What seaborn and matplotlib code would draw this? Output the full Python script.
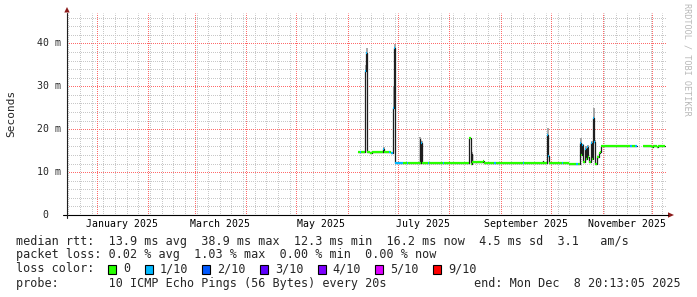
import numpy as np
import pandas as pd
import matplotlib
matplotlib.use("Agg")
import matplotlib.pyplot as plt
import matplotlib.dates as mdates
from matplotlib.lines import Line2D
from matplotlib.patches import Polygon, Rectangle
from matplotlib.transforms import blended_transform_factory
import seaborn as sns

# ---------------- data ----------------
nan = np.nan
rtt_time = [
    "2025-06-07 08:00", "2025-06-08 00:00", "2025-06-08 16:00", "2025-06-11 12:00",
    "2025-06-12 00:00", "2025-06-12 12:00", "2025-06-14 00:00", "2025-06-15 12:00",
    "2025-06-22 06:00", "2025-06-22 18:00", "2025-06-25 12:00", "2025-06-26 00:00",
    "2025-06-27 00:00", "2025-06-28 06:00", "2025-06-28 18:00", "2025-06-29 06:00",
    "2025-07-04 00:00", "2025-07-06 12:00", "2025-07-07 06:00", "2025-07-14 00:00",
    "2025-07-14 12:00", "2025-07-15 00:00", "2025-07-15 12:00", "2025-07-19 00:00",
    "2025-07-19 18:00", "2025-07-28 00:00", "2025-07-28 18:00", "2025-08-12 12:00",
    "2025-08-13 18:00", "2025-08-14 06:00", "2025-08-14 18:00", "2025-08-21 00:00",
    "2025-08-21 12:00", "2025-08-28 00:00", "2025-08-28 18:00", "2025-09-14 00:00",
    "2025-09-14 18:00", "2025-09-26 00:00", "2025-09-26 12:00", "2025-09-28 18:00",
    "2025-09-29 06:00", "2025-09-29 18:00", "2025-10-07 18:00", "2025-10-08 12:00",
    "2025-10-12 00:00", "2025-10-16 00:00", "2025-10-17 00:00", "2025-10-18 18:00",
    "2025-10-19 08:00", "2025-10-19 23:00", "2025-10-20 13:00", "2025-10-21 18:00",
    "2025-10-22 08:00", "2025-10-22 23:00", "2025-10-23 13:00", "2025-10-24 03:00",
    "2025-10-25 08:00", "2025-10-25 23:00", "2025-10-26 13:00", "2025-10-27 03:00",
    "2025-10-27 18:00", "2025-10-28 23:00", "2025-10-30 03:00", "2025-10-30 18:00",
    "2025-10-31 08:00", "2025-11-10 00:00", "2025-11-10 12:00", "2025-11-17 12:00",
    "2025-11-19 00:00", "2025-11-20 12:00", "2025-11-21 12:00", "2025-11-22 00:00",
    "2025-11-25 12:00", "2025-12-01 00:00", "2025-12-01 12:00", "2025-12-04 00:00",
    "2025-12-04 12:00", "2025-12-08 20:13",
]
rtt_median_ms = [
    14.6, 14.7, 14.7, 33.5, 37.7, 14.7, 14.5, 14.7,
    15.5, 14.6, 14.6, 14.6, 14.5, 25.0, 38.9, 12.2,
    12.2, 12.2, 12.2, 17.8, 12.2, 16.9, 12.2, 12.2,
    12.2, 12.2, 12.1, 18.0, 11.9, 14.3, 12.3, 12.6,
    12.2, 12.2, 12.2, 12.2, 12.2, 12.6, 12.2, 18.6,
    13.8, 12.2, 12.2, 12.2, 12.0, 12.0, 12.0, 16.7,
    14.0, 16.3, 12.3, 15.3, 13.0, 15.8, 13.5, 12.4,
    16.8, 13.0, 22.6, 17.0, 12.0, 13.5, 14.5, 14.6,
    16.1, 16.1, 16.1, 16.1, 16.0, 16.1, 16.1, nan,
    16.1, 15.9, 16.1, 15.9, 16.1, 16.1,
]
rtt_smoke_top_ms = [
    nan, nan, nan, 35.0, 38.9, nan, nan, nan,
    15.8, nan, nan, nan, nan, 30.0, 39.8, nan,
    nan, nan, nan, 18.3, nan, 17.2, nan, nan,
    nan, nan, nan, 18.2, nan, 14.6, nan, nan,
    nan, nan, nan, nan, nan, nan, nan, 20.2,
    14.4, nan, nan, nan, nan, nan, nan, 17.9,
    14.5, 16.6, nan, 16.2, nan, 16.3, nan, nan,
    17.2, nan, 24.9, 17.5, nan, nan, nan, nan,
    nan, nan, nan, nan, nan, nan, nan, nan,
    nan, nan, nan, nan, nan, nan,
]
rtt_loss = [
    0, 1, 0, 1, 1, 0, 0, 0,
    1, 0, 1, 0, 1, 1, 1, 1,
    0, 1, 0, 1, 0, 1, 0, 1,
    0, 1, 0, 0, 0, 0, 0, 0,
    0, 1, 0, 1, 0, 0, 0, 1,
    1, 0, 1, 0, 0, 1, 0, 1,
    0, 1, 0, 1, 0, 1, 0, 0,
    1, 0, 1, 1, 0, 0, 0, 0,
    0, 1, 0, 1, 0, 1, 0, 0,
    0, 0, 0, 0, 0, 0,
]
loss_labels = ["0", "1/10", "2/10", "3/10", "4/10", "5/10", "9/10"]
loss_colors = ["#26ff00", "#00b8ff", "#0059ff", "#5e00ff", "#7e00ff", "#dd00ff", "#ff0000"]

month_label_names = ["January 2025", "March 2025", "May 2025", "July 2025",
                     "September 2025", "November 2025"]
month_label_pos = ["2025-01-16", "2025-03-16", "2025-05-16", "2025-07-16",
                   "2025-09-16", "2025-11-16"]
y_ticks = [0, 10, 20, 30, 40]
y_tick_labels = ["0", "10 m", "20 m", "30 m", "40 m"]

legend_rtt = "median rtt:  13.9 ms avg  38.9 ms max  12.3 ms min  16.2 ms now  4.5 ms sd  3.1   am/s"
legend_loss = "packet loss: 0.02 % avg  1.03 % max  0.00 % min  0.00 % now"
legend_probe = "probe:       10 ICMP Echo Pings (56 Bytes) every 20s"
legend_end = "end: Mon Dec  8 20:13:05 2025"

# ---------------- figure ----------------
sns.set_style("white")
plt.rcParams["font.family"] = ["DejaVu Sans Mono", "DejaVu Sans"]

W, H = 697, 297
fig = plt.figure(figsize=(W / 100, H / 100), dpi=100)
fig.patch.set_facecolor("white")

def fx(x):
    return x / W

def fy(y):
    return 1 - y / H

L, R, T, B = 66.5, 665.5, 13.4, 215.0
ax = fig.add_axes([fx(L), fy(B), (R - L) / W, (B - T) / H])
ax.set_facecolor("white")
for s in ax.spines.values():
    s.set_visible(False)

t = pd.to_datetime(pd.Series(rtt_time))
med = np.array(rtt_median_ms, dtype=float)
top = np.array(rtt_smoke_top_ms, dtype=float)

# frame for the (dark) step line, split at data gaps
rows = []
seg = 0
prev = med[0]
for ti, v in zip(t, med):
    if np.isnan(v):
        rows.append((ti, prev, seg))
        seg += 1
    else:
        rows.append((ti, v, seg))
        prev = v
line_df = pd.DataFrame(rows, columns=["time", "rtt", "seg"])

t_end = pd.Timestamp("2025-12-08 20:13:05")
t_start = t_end - pd.Timedelta(days=360)

# grid (1px dotted lines, snapped to pixels)
minor_c = "#c8c8c8"
major_c = "#ff6a6a"
dash = (0.5, (1, 1))
gkw = dict(lw=0.72, ls=dash, antialiased=True, snap=True)
months = pd.date_range("2025-01-01", t_end, freq="MS")
weeks = pd.date_range(t_start.normalize(), t_end, freq="W-SUN")
for w in weeks:
    if w not in months:
        ax.axvline(w, color=minor_c, zorder=0, **gkw)
for m in months:
    ax.axvline(m, color=major_c, zorder=0.5, **gkw)
for yv in range(2, 47, 2):
    if yv % 10:
        ax.axhline(yv, color=minor_c, zorder=0, **gkw)
    else:
        ax.axhline(yv, color=major_c, zorder=0.5, **gkw)

# smoke
tn = mdates.date2num(t)
for i in range(len(t) - 1):
    if not np.isnan(top[i]) and not np.isnan(med[i]):
        mid = (tn[i] + tn[i + 1]) / 2
        ax.vlines(mid, med[i], top[i], color="#a0a0a0", lw=1.3, zorder=2)

# median step line (dark joins)
sns.lineplot(data=line_df, x="time", y="rtt", units="seg", estimator=None,
             drawstyle="steps-post", color="#1e1e1e", lw=0.9, ax=ax,
             legend=False, zorder=3)

# median coloured by loss
for i in range(len(t) - 1):
    if np.isnan(med[i]):
        continue
    ax.hlines(med[i], tn[i], tn[i + 1], color=loss_colors[rtt_loss[i]],
              lw=1.6, zorder=4, capstyle="butt")

ax.set_xlim(t_start, t_end)
ax.set_ylim(0, 47)
ax.set_xlabel("")
ax.set_ylabel("")
ax.set_xticks(pd.to_datetime(month_label_pos), month_label_names)
ax.tick_params(axis="x", length=0, pad=2.7, labelsize=7.1, colors="#000000")
ax.set_yticks([])

trans = blended_transform_factory(fig.transFigure, ax.transData)
for v, lab in zip(y_ticks, y_tick_labels):
    if lab == "0":
        ax.text(fx(45), v, lab, transform=trans, ha="center", va="center", fontsize=7.1)
    else:
        ax.text(fx(60.5), v, lab, transform=trans, ha="right", va="center", fontsize=7.1)

# axes with arrows
fig.add_artist(Line2D([fx(63), fx(668)], [fy(215), fy(215)], color="#000000", lw=0.8))
fig.add_artist(Line2D([fx(67), fx(67)], [fy(218), fy(12.5)], color="#202020", lw=0.8))
fig.add_artist(Polygon([[fx(668), fy(212.3)], [fx(668), fy(217.7)], [fx(674), fy(215)]],
                       closed=True, color="#8b1a1a", lw=0))
fig.add_artist(Polygon([[fx(64.3), fy(12.5)], [fx(69.7), fy(12.5)], [fx(67), fy(7)]],
                       closed=True, color="#8b1a1a", lw=0))

# y label and watermark
fig.text(fx(11), fy(113.5), "Seconds", rotation=90, ha="center", va="center", fontsize=8.0)
fig.text(fx(687), fy(59), "RRDTOOL / TOBI OETIKER", rotation=270, ha="center",
         va="center", fontsize=6.1, color="#b8b8b8")

# legend
fs = 8.43
fig.text(fx(16), fy(241.3), legend_rtt, ha="left", va="center", fontsize=fs)
fig.text(fx(16), fy(254.8), legend_loss, ha="left", va="center", fontsize=fs)
fig.text(fx(16), fy(269.0), "loss color:", ha="left", va="center", fontsize=fs)
fig.text(fx(16), fy(283.2), legend_probe, ha="left", va="center", fontsize=fs)
fig.text(fx(681), fy(283.2), legend_end, ha="right", va="center", fontsize=fs)

cw = 7.05
x0 = 108.0
for lab, col in zip(loss_labels, loss_colors):
    fig.add_artist(Rectangle((fx(x0), fy(274)), 8 / W, 9 / H, transform=fig.transFigure,
                             facecolor=col, edgecolor="#000000", lw=0.8))
    fig.text(fx(x0 + 15), fy(269.0), lab, ha="left", va="center", fontsize=fs)
    x0 += 15 + cw * len(lab) + 14.5

fig.savefig("out.png", dpi=100, facecolor="white")
